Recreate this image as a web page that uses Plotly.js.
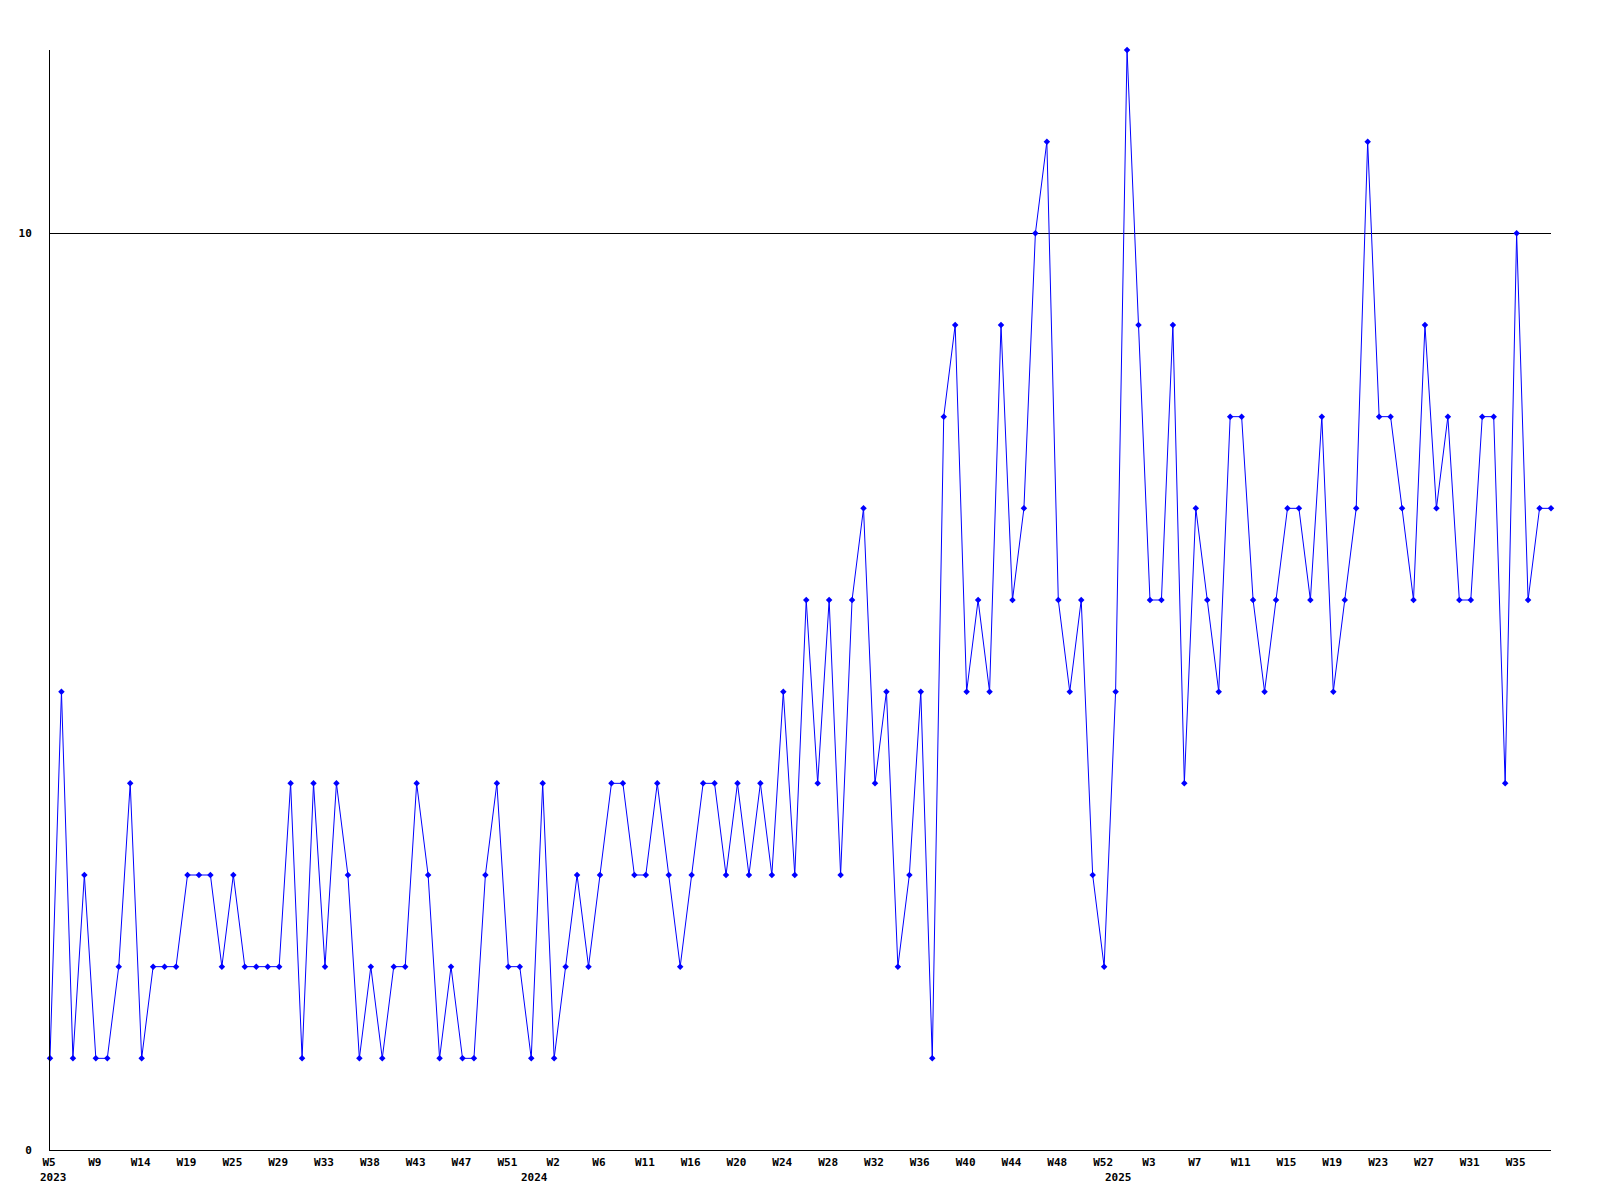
<!DOCTYPE html>
<html>
<head>
<meta charset="utf-8">
<script src="https://cdn.plot.ly/plotly-3.0.1.min.js"></script>
<style>
  html, body { margin: 0; padding: 0; background: #ffffff; }
  #chart { width: 1600px; height: 1200px; }
</style>
</head>
<body>
<div id="chart"></div>
<script>
// Weekly values, W5 2023 .. W37 2025 (one entry per plotted week)
const weeklyValues = [
  1,5,1,3,1,1,2,4,1,2, 2,2,3,3,3,2,3,2,2,2, 2,4,1,4,2,4,3,1,2,1, 2,2,4,3,1,2,1,1,3,4, 2,2,1,4,
  1,2,3,2,3,4,4,3,3,4, 3,2,3,4,4,3,4,3,4,3, 5,3,
  6,4,6,3,6,7,4,5,2,3, 5,1,
  8,9,5,6,5,9,6,7,10,11, 6,5,6,3,2,5,12,9,6,6, 9,4,7,6,5,8,8,
  6,5,6,7,7,6,8,5,6,7, 11,8,8,7,6,9,7,8,6,6, 8,8,4,10,6,7,7
];

// x-axis week labels, one every 4 points
const weekTickLabels = [
  "W5","W9","W14","W19","W25","W29","W33","W38","W43","W47","W51",
  "W2","W6","W11","W16","W20","W24","W28","W32","W36","W40","W44","W48","W52",
  "W3","W7","W11","W15","W19","W23","W27","W31","W35"
];
const tickStep = 4;

// year labels and the point index where each year begins
const yearLabels = ["2023", "2024", "2025"];
const yearStartIndex = [0, 42, 93];

// y-axis labels
const yTickValues = [0, 10];
const yTickLabels = ["0", "10"];

const xIdx = weeklyValues.map((_, i) => i);
const tickVals = weekTickLabels.map((_, i) => i * tickStep);

const FONT = "DejaVu Sans Mono, Liberation Mono, monospace";

const trace = {
  x: xIdx,
  y: weeklyValues,
  type: "scatter",
  mode: "lines+markers",
  line: { color: "#0000ff", width: 1 },
  marker: { color: "#0000ff", symbol: "diamond", size: 5 },
  cliponaxis: false,
  hoverinfo: "x+y"
};

const annotations = yearLabels.map((t, i) => ({
  text: "<b>" + t + "</b>",
  x: yearStartIndex[i],
  xref: "x",
  y: 0,
  yref: "paper",
  xanchor: "center",
  yanchor: "top",
  xshift: 3,
  yshift: -19,
  showarrow: false,
  font: { family: FONT, size: 11, color: "#000000" }
}));

const layout = {
  width: 1600,
  height: 1200,
  margin: { l: 50, r: 49, t: 50, b: 50 },
  paper_bgcolor: "#ffffff",
  plot_bgcolor: "#ffffff",
  showlegend: false,
  xaxis: {
    range: [0, weeklyValues.length - 1],
    tickmode: "array",
    tickvals: tickVals,
    ticktext: weekTickLabels.map(t => "<b>" + t + "</b>"),
    ticks: "",
    ticklabelshift: -1,
    ticklabelstandoff: 2,
    showgrid: false,
    zeroline: false,
    showline: true,
    linecolor: "#000000",
    linewidth: 1,
    tickfont: { family: FONT, size: 11, color: "#000000" }
  },
  yaxis: {
    range: [0, 12],
    tickmode: "array",
    tickvals: yTickValues,
    ticktext: yTickLabels.map(t => "<b>" + t + "</b>"),
    ticks: "",
    ticklabelstandoff: 15,
    showgrid: true,
    gridcolor: "#000000",
    gridwidth: 1,
    zeroline: false,
    showline: true,
    linecolor: "#000000",
    linewidth: 1,
    tickfont: { family: FONT, size: 11, color: "#000000" }
  },
  annotations: annotations
};

Plotly.newPlot("chart", [trace], layout, { staticPlot: true });
</script>
</body>
</html>
